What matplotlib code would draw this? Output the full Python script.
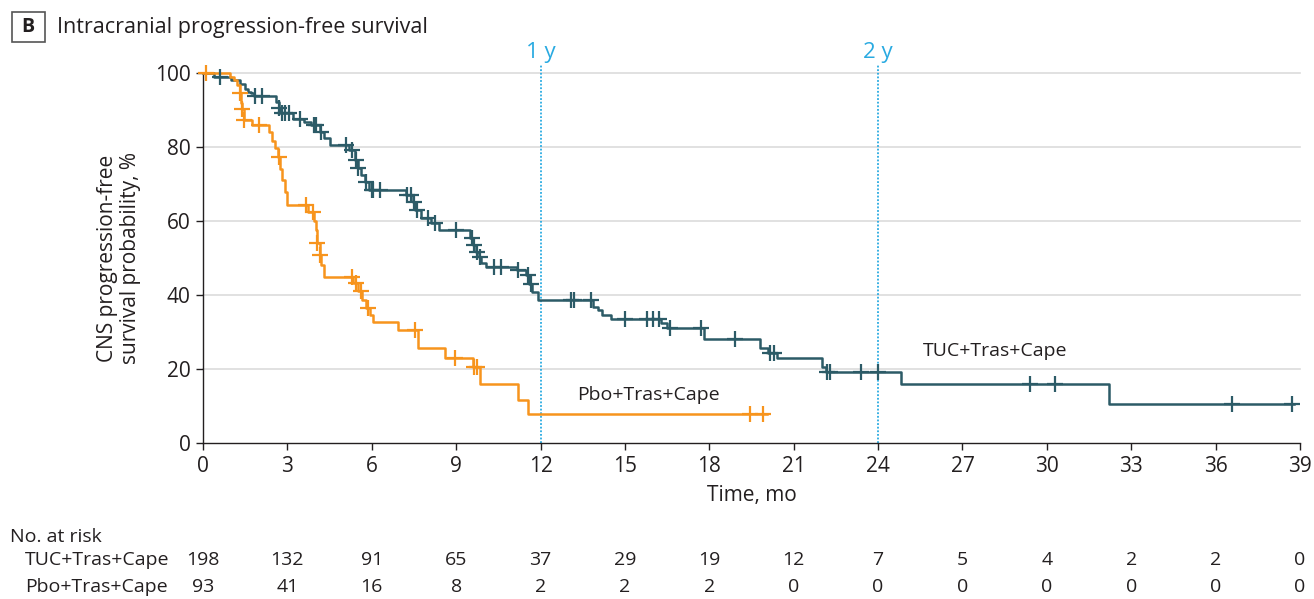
import numpy as np
import matplotlib
matplotlib.use("Agg")
import matplotlib.pyplot as plt
from matplotlib.transforms import blended_transform_factory
from matplotlib.patches import Rectangle

plt.rcParams['font.family'] = ['Liberation Sans Narrow', 'Open Sans', 'DejaVu Sans']

# --- data -----------------------------------------------------------------
# TUC+Tras+Cape: step times (mo) and survival after each step (%)
tuc_t = [0, 0.4, 1.0, 1.3, 1.5, 1.6, 1.7, 1.8, 2.6, 2.7, 2.75, 3.2, 3.6, 3.85,
         4.15, 4.3, 4.5, 5.2, 5.4, 5.5, 5.6, 5.75, 5.9, 7.2, 7.45, 7.55, 7.75,
         8.1, 8.4, 9.5, 9.6, 9.7, 9.8, 9.9, 10.05, 11.15, 11.5, 11.6, 11.7,
         11.9, 13.85, 14.05, 14.2, 14.5, 16.3, 16.5, 17.8, 19.8, 20.1, 20.4,
         22.0, 22.15, 24.8, 32.2]
tuc_s = [100, 99, 98, 97, 95.6, 95, 94.5, 93.8, 92.2, 90.5, 89.2, 87.7, 86.8,
         86, 84.1, 82.3, 80.5, 79.2, 76.5, 74.3, 72.4, 70.6, 68.4, 67, 65.2,
         63, 60.7, 59.4, 57.6, 55.3, 53.5, 51.7, 50.4, 48.6, 47.7, 46.8, 45.4,
         43, 40.9, 38.6, 36.8, 35.9, 34.6, 33.4, 32.3, 31.0, 28.0, 25.6, 24.2,
         22.9, 20.5, 19.3, 15.9, 10.6]
tuc_end = 38.8
tuc_cens = [0.6, 1.85, 2.1, 2.7, 2.8, 2.9, 3.05, 3.45, 3.95, 4.0, 4.2, 5.1,
            5.3, 5.45, 5.5, 5.8, 6.0, 6.05, 6.3, 7.25, 7.4, 7.5, 7.6, 8.0,
            8.25, 9.0, 9.55, 9.65, 9.75, 9.85, 10.35, 10.6, 11.2, 11.55,
            11.65, 13.1, 13.2, 13.8, 15.0, 15.8, 16.0, 16.2, 16.6, 17.7, 18.9,
            20.15, 20.3, 22.2, 22.3, 23.4, 24.0, 29.4, 30.3, 36.6, 38.7]

# Pbo+Tras+Cape
pbo_t = [0, 0.95, 1.1, 1.2, 1.3, 1.35, 1.4, 1.45, 1.75, 2.35, 2.45, 2.55,
         2.65, 2.75, 2.8, 2.9, 3.0, 3.75, 3.95, 4.0, 4.05, 4.15, 4.2, 4.3,
         5.35, 5.5, 5.65, 5.8, 5.95, 6.05, 6.95, 7.65, 8.6, 9.6, 9.85, 11.2,
         11.55]
pbo_s = [100, 99, 98, 96.8, 94.5, 92, 90.4, 87.3, 86, 84.1, 81.5, 79.6, 77.4,
         74, 71.1, 67.9, 64.3, 62.5, 60, 57.6, 54, 50.8, 48, 45, 43.2, 41,
         38.6, 36.5, 34.7, 32.8, 30.5, 25.6, 22.9, 20.6, 15.9, 11.6, 7.8]
pbo_end = 20.05
pbo_cens = [0.1, 1.3, 1.4, 1.45, 2.0, 2.7, 3.65, 3.9, 4.05, 4.15, 5.3, 5.45,
            5.6, 5.85, 7.55, 8.95, 9.65, 9.75, 19.45, 19.9]

risk_times = [0, 3, 6, 9, 12, 15, 18, 21, 24, 27, 30, 33, 36, 39]
tuc_risk = [198, 132, 91, 65, 37, 29, 19, 12, 7, 5, 4, 2, 2, 0]
pbo_risk = [93, 41, 16, 8, 2, 2, 2, 0, 0, 0, 0, 0, 0, 0]

ref_times = [12, 24]
ref_labels = ['1 y', '2 y']

TEAL = '#2c5b67'
ORANGE = '#f7941d'
BLUE = '#29aae1'
TXT = '#231f20'


def surv_at(times, surv, c):
    idx = np.searchsorted(times, c, side='right') - 1
    return np.asarray(surv)[idx]


fig = plt.figure(figsize=(13.14, 5.99), dpi=100)
ax = fig.add_axes([203 / 1314, 1 - 443 / 599, 1097 / 1314, 370 / 599])

ax.set_xlim(0, 39)
ax.set_ylim(0, 100)

for y in [20, 40, 60, 80, 100]:
    ax.axhline(y, color='#dcdcdc', lw=1.2, zorder=0, clip_on=False)

for t, lab in zip(ref_times, ref_labels):
    ax.plot([t, t], [0, 102.5], color=BLUE, lw=1.3, ls=(0, (1, 1)),
            clip_on=False, zorder=1)
    ax.text(t, 102.8, lab, color=BLUE, ha='center', va='bottom', fontsize=16)

for times, surv, end, cens, col in [(tuc_t, tuc_s, tuc_end, tuc_cens, TEAL),
                                     (pbo_t, pbo_s, pbo_end, pbo_cens, ORANGE)]:
    xs = list(times) + [end]
    ys = list(surv) + [surv[-1]]
    ax.step(xs, ys, where='post', color=col, lw=1.8, clip_on=False, zorder=3)
    ax.plot(cens, surv_at(times, surv, cens), ls='none', marker='+',
            ms=11, mew=1.6, color=col, clip_on=False, zorder=4)

ax.text(25.6, 25, 'TUC+Tras+Cape', fontsize=14, color=TXT, va='center')
ax.text(13.3, 13, 'Pbo+Tras+Cape', fontsize=14, color=TXT, va='center')

for s in ['top', 'right']:
    ax.spines[s].set_visible(False)
for s in ['left', 'bottom']:
    ax.spines[s].set_color('#231f20')
    ax.spines[s].set_linewidth(1.0)

ax.set_xticks(risk_times)
ax.set_yticks([0, 20, 40, 60, 80, 100])
ax.tick_params(direction='out', length=5, width=1, color='#231f20',
               labelsize=15, labelcolor=TXT, pad=4)
ax.set_xlabel('Time, mo', fontsize=15, color=TXT, labelpad=6)
ax.set_ylabel('CNS progression-free\nsurvival probability, %', fontsize=15,
              color=TXT, labelpad=10, linespacing=1.1)

# title with boxed panel letter
fig.text(28 / 1314, 1 - 27 / 599, 'B', fontsize=14, fontweight='bold',
         color=TXT, ha='center', va='center')
fig.add_artist(Rectangle((12 / 1314, 1 - 42 / 599), 33 / 1314, 30 / 599,
                         transform=fig.transFigure, fill=False,
                         edgecolor='#555555', lw=1.2))
fig.text(57 / 1314, 1 - 27 / 599, 'Intracranial progression-free survival',
         fontsize=15.5, color=TXT, ha='left', va='center')

# number at risk table
tr = blended_transform_factory(ax.transData, fig.transFigure)
fig.text(10 / 1314, 1 - 537 / 599, 'No. at risk', fontsize=14, color=TXT,
         va='center')
fig.text(25 / 1314, 1 - 560 / 599, 'TUC+Tras+Cape', fontsize=14, color=TXT,
         va='center')
fig.text(25 / 1314, 1 - 587 / 599, 'Pbo+Tras+Cape', fontsize=14, color=TXT,
         va='center')
for t, a, b in zip(risk_times, tuc_risk, pbo_risk):
    fig.text(t, 1 - 560 / 599, str(a), transform=tr, fontsize=14, color=TXT,
             ha='center', va='center')
    fig.text(t, 1 - 587 / 599, str(b), transform=tr, fontsize=14, color=TXT,
             ha='center', va='center')

fig.savefig('out.png', dpi=100)
